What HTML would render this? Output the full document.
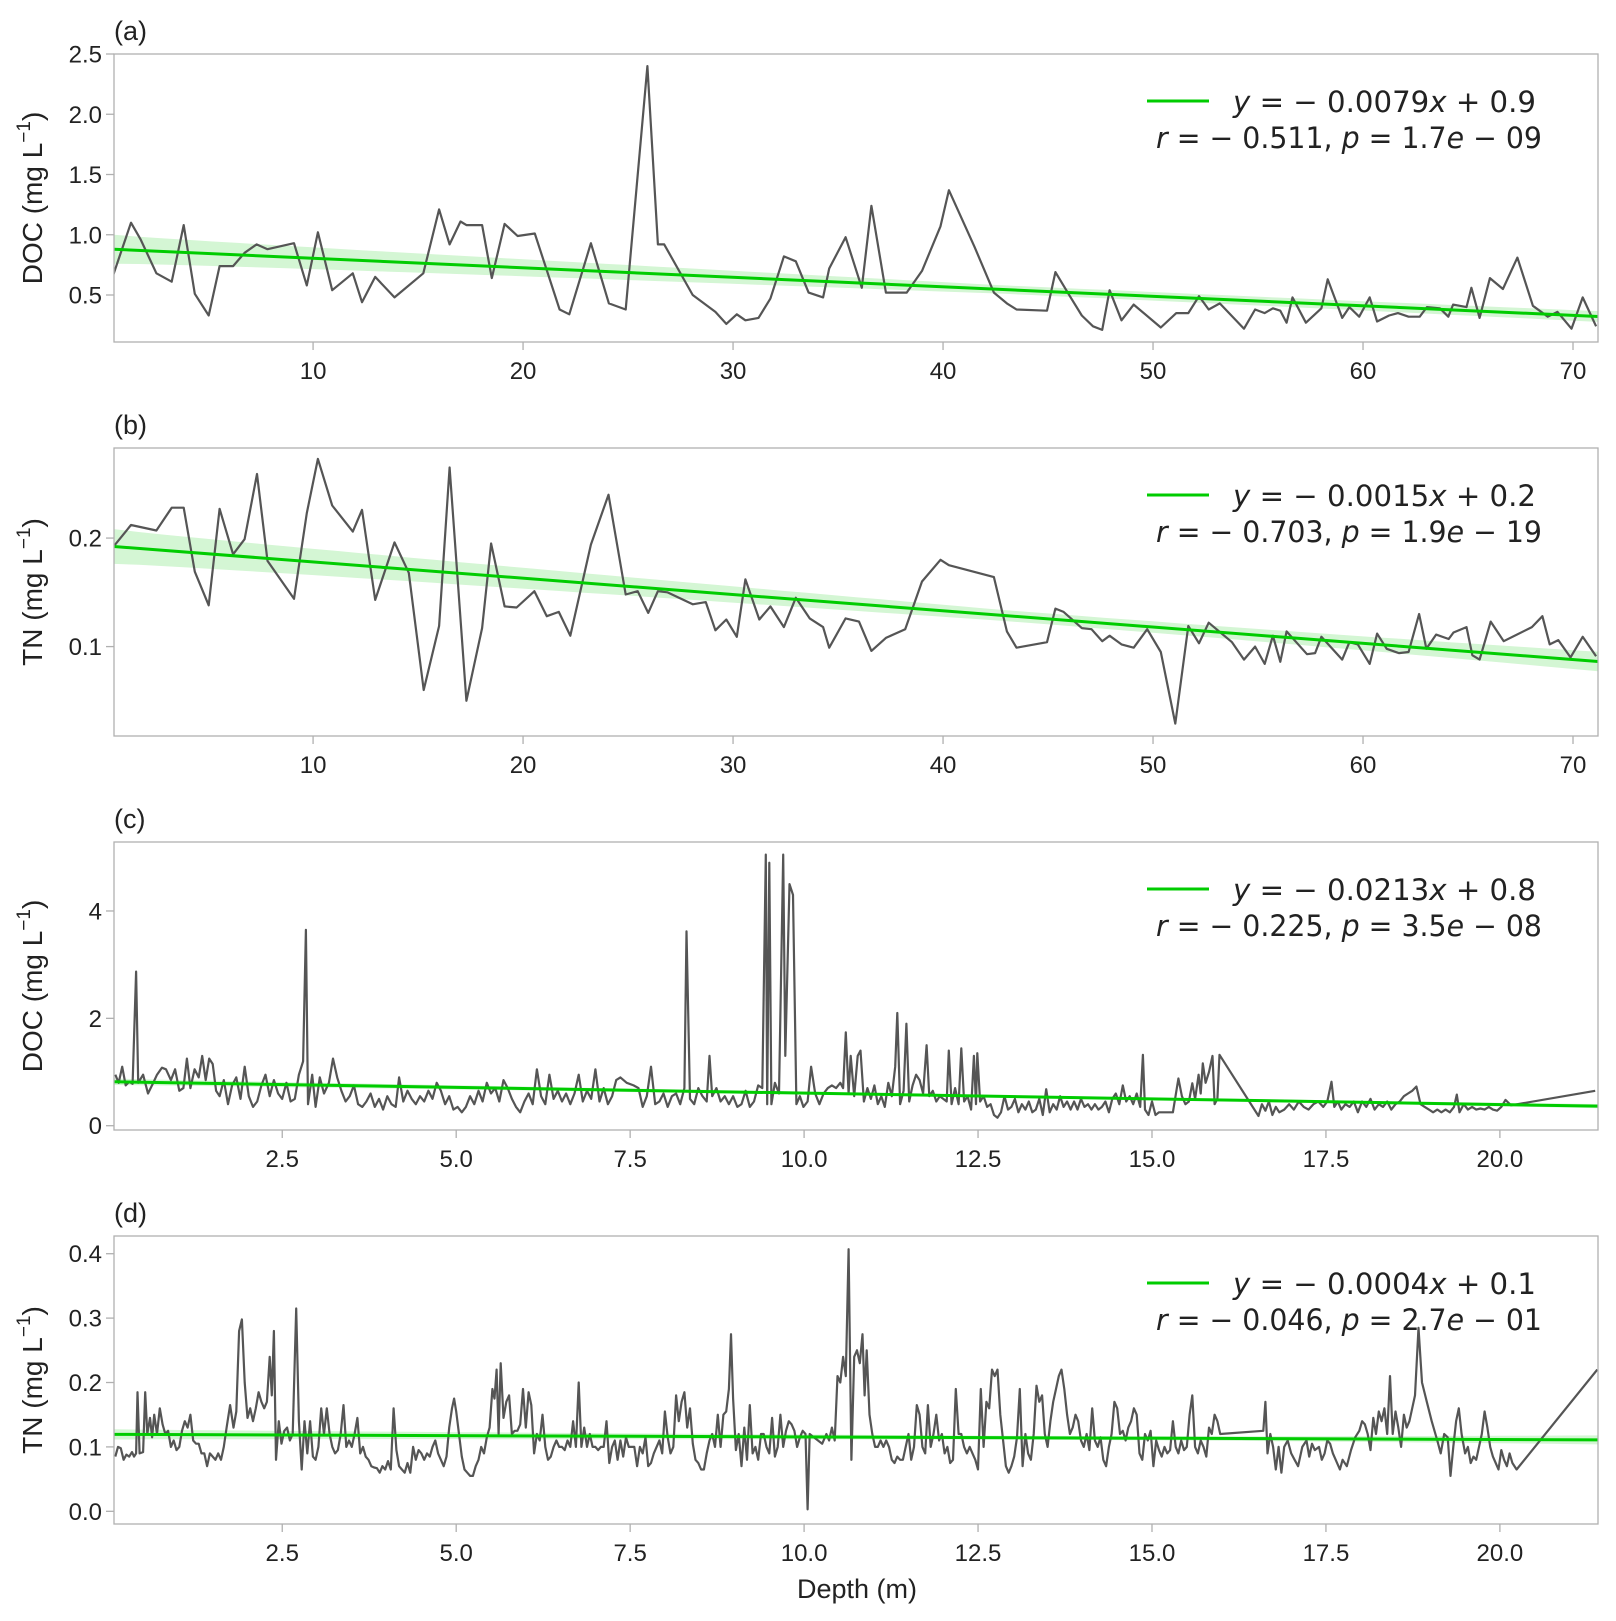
<!DOCTYPE html>
<html><head><meta charset="utf-8">
<style>
html,body{margin:0;padding:0;background:#fff;}
svg{display:block;}
text{font-family:"Liberation Sans",sans-serif;fill:#222;}
.math{font-family:"DejaVu Sans","Liberation Sans",sans-serif;}
</style></head>
<body>
<svg id="fig" width="1616" height="1621" viewBox="0 0 1616 1621" xmlns="http://www.w3.org/2000/svg"></svg>
<script>
// ---------- Panel (a) DOC, 0-71 m ----------
const aDepth=[0.49,1.33,1.79,2.54,3.27,3.84,4.37,5.03,5.55,6.19,6.74,7.31,7.83,9.09,9.70,10.23,10.91,11.89,12.33,12.96,13.88,15.25,16.0,16.5,17.02,17.30,18.05,18.51,19.12,19.74,20.56,21.74,22.2,23.23,24.09,24.89,25.92,26.42,26.72,28.08,29.16,29.68,30.18,30.59,31.21,31.78,32.42,32.99,33.6,34.29,34.58,35.36,36.13,36.59,37.28,38.27,39.0,39.88,40.28,41.5,42.42,43.04,43.5,44.95,45.35,46.04,46.61,47.14,47.58,47.93,48.5,49.08,50.37,51.11,51.68,52.19,52.65,53.18,54.33,54.86,55.32,55.71,56.06,56.36,56.64,57.28,58.02,58.32,59.01,59.35,59.82,60.32,60.67,61.24,61.66,62.17,62.7,63.04,63.66,64.06,64.29,64.93,65.16,65.55,66.04,66.66,67.35,68.09,68.8,69.26,69.93,70.46,71.1];
const aDOC=[0.67,1.10,0.96,0.68,0.61,1.08,0.51,0.33,0.74,0.74,0.85,0.92,0.88,0.93,0.58,1.02,0.54,0.68,0.44,0.65,0.48,0.68,1.21,0.92,1.11,1.08,1.08,0.64,1.09,0.99,1.01,0.38,0.34,0.93,0.43,0.38,2.40,0.92,0.92,0.50,0.36,0.26,0.34,0.29,0.31,0.47,0.82,0.78,0.52,0.48,0.72,0.98,0.56,1.24,0.52,0.52,0.70,1.07,1.37,0.90,0.52,0.43,0.38,0.37,0.69,0.49,0.33,0.24,0.21,0.54,0.29,0.42,0.23,0.35,0.35,0.49,0.38,0.43,0.22,0.38,0.35,0.39,0.37,0.27,0.48,0.27,0.39,0.63,0.31,0.40,0.32,0.48,0.28,0.33,0.35,0.32,0.32,0.40,0.39,0.32,0.42,0.40,0.56,0.31,0.64,0.55,0.81,0.41,0.32,0.36,0.22,0.48,0.24];
// ---------- Panel (b) TN, 0-71 m ----------
const bDepth=[0.49,1.33,2.54,3.27,3.84,4.37,5.03,5.55,6.19,6.74,7.33,7.83,9.09,9.7,10.23,10.91,11.89,12.33,12.96,13.88,14.56,15.27,16.0,16.5,17.3,18.05,18.48,19.12,19.69,20.54,21.13,21.7,22.25,23.23,24.07,24.89,25.46,25.96,26.42,26.87,28.08,28.7,29.16,29.68,30.18,30.59,31.25,31.78,32.42,32.99,33.65,34.29,34.58,35.36,36.0,36.59,37.28,38.2,39.0,39.88,40.28,42.42,43.04,43.5,44.95,45.35,45.74,46.61,47.07,47.58,47.93,48.5,49.08,49.72,50.37,51.06,51.68,52.19,52.65,53.76,54.33,54.86,55.32,55.71,56.06,56.36,57.33,57.72,58.02,59.01,59.35,59.75,60.32,60.67,61.13,61.71,62.17,62.67,63.02,63.48,64.08,64.31,64.93,65.21,65.55,66.08,66.7,68.04,68.54,68.89,69.3,69.88,70.46,71.1];
const bTN=[0.192,0.212,0.207,0.228,0.228,0.169,0.138,0.227,0.185,0.199,0.259,0.179,0.144,0.223,0.273,0.230,0.206,0.226,0.143,0.196,0.168,0.060,0.119,0.265,0.050,0.117,0.195,0.137,0.136,0.151,0.128,0.132,0.110,0.194,0.240,0.148,0.151,0.131,0.151,0.150,0.139,0.141,0.115,0.125,0.109,0.162,0.125,0.137,0.118,0.145,0.126,0.118,0.099,0.126,0.123,0.096,0.108,0.116,0.160,0.180,0.175,0.164,0.114,0.099,0.104,0.135,0.132,0.117,0.116,0.105,0.110,0.102,0.099,0.116,0.095,0.029,0.119,0.103,0.122,0.104,0.088,0.100,0.084,0.110,0.086,0.114,0.093,0.094,0.109,0.088,0.104,0.102,0.084,0.112,0.098,0.094,0.095,0.130,0.098,0.111,0.107,0.113,0.118,0.092,0.088,0.123,0.105,0.118,0.128,0.102,0.106,0.090,0.109,0.091];
// ---------- Panel (c) DOC, 0-21.4 m ----------
const cDepth=[0.10,0.15,0.20,0.25,0.30,0.35,0.40,0.43,0.50,0.57,0.64,0.70,0.77,0.83,0.90,0.96,1.02,1.08,1.13,1.18,1.24,1.30,1.35,1.40,1.45,1.50,1.55,1.60,1.66,1.72,1.78,1.84,1.90,1.96,2.02,2.08,2.14,2.20,2.26,2.32,2.38,2.44,2.50,2.56,2.62,2.68,2.74,2.80,2.84,2.87,2.93,2.98,3.04,3.10,3.17,3.23,3.29,3.35,3.41,3.47,3.53,3.59,3.65,3.71,3.77,3.83,3.89,3.95,4.01,4.07,4.13,4.18,4.24,4.30,4.36,4.42,4.48,4.54,4.60,4.66,4.72,4.78,4.84,4.90,4.96,5.02,5.08,5.14,5.20,5.26,5.32,5.38,5.44,5.50,5.56,5.62,5.68,5.74,5.80,5.86,5.92,5.98,6.04,6.10,6.16,6.22,6.28,6.34,6.40,6.46,6.52,6.58,6.64,6.70,6.76,6.82,6.88,6.94,7.00,7.06,7.12,7.18,7.24,7.30,7.36,7.45,7.55,7.62,7.68,7.74,7.80,7.86,7.92,7.98,8.04,8.10,8.16,8.22,8.28,8.31,8.36,8.42,8.48,8.54,8.60,8.64,8.68,8.74,8.80,8.86,8.92,8.98,9.04,9.10,9.16,9.22,9.28,9.34,9.40,9.45,9.47,9.50,9.53,9.58,9.64,9.70,9.73,9.79,9.84,9.89,9.94,9.99,10.05,10.10,10.16,10.22,10.28,10.34,10.40,10.46,10.52,10.56,10.60,10.64,10.67,10.72,10.77,10.81,10.86,10.91,10.96,11.01,11.06,11.11,11.16,11.21,11.26,11.31,11.34,11.38,11.43,11.47,11.51,11.56,11.61,11.66,11.71,11.76,11.80,11.85,11.90,11.95,12.00,12.05,12.08,12.12,12.17,12.22,12.26,12.30,12.35,12.40,12.44,12.47,12.49,12.53,12.58,12.63,12.68,12.73,12.78,12.83,12.88,12.93,12.98,13.03,13.08,13.13,13.18,13.23,13.28,13.33,13.38,13.43,13.48,13.53,13.58,13.63,13.68,13.73,13.78,13.83,13.88,13.93,13.98,14.03,14.08,14.13,14.18,14.23,14.28,14.33,14.38,14.43,14.48,14.53,14.58,14.63,14.68,14.73,14.78,14.83,14.87,14.90,14.95,15.00,15.05,15.10,15.20,15.30,15.38,15.43,15.48,15.53,15.58,15.62,15.67,15.70,15.73,15.77,15.82,15.87,15.90,15.94,15.97,16.53,16.58,16.63,16.68,16.73,16.78,16.83,16.90,16.97,17.04,17.11,17.18,17.25,17.32,17.39,17.46,17.52,17.58,17.62,17.67,17.72,17.78,17.84,17.90,17.96,18.02,18.08,18.14,18.20,18.26,18.32,18.38,18.44,18.50,18.56,18.62,18.68,18.74,18.80,18.86,18.92,18.98,19.04,19.10,19.16,19.22,19.28,19.34,19.38,19.42,19.48,19.54,19.60,19.66,19.72,19.78,19.84,19.90,19.96,20.02,20.08,20.16,21.37];
const cDOC=[0.95,0.80,1.10,0.75,0.82,0.78,2.87,0.80,0.95,0.60,0.78,0.95,1.08,1.05,0.85,1.05,0.65,0.70,1.25,0.70,1.05,0.90,1.30,0.85,1.25,1.15,0.65,0.55,0.85,0.40,0.75,0.90,0.50,1.10,0.55,0.35,0.45,0.75,0.95,0.55,0.85,0.60,0.50,0.80,0.45,0.50,0.95,1.20,3.65,0.40,0.95,0.35,0.90,0.60,0.80,1.25,0.90,0.65,0.45,0.55,0.75,0.40,0.35,0.45,0.60,0.35,0.50,0.30,0.55,0.40,0.35,0.90,0.45,0.65,0.50,0.40,0.55,0.45,0.65,0.50,0.80,0.65,0.40,0.55,0.30,0.35,0.25,0.35,0.55,0.40,0.65,0.45,0.80,0.60,0.70,0.45,0.85,0.70,0.50,0.35,0.25,0.45,0.60,0.40,1.05,0.55,0.40,0.95,0.50,0.65,0.45,0.60,0.40,0.60,0.95,0.45,0.65,0.50,1.05,0.45,0.70,0.40,0.55,0.85,0.90,0.80,0.75,0.70,0.35,0.55,1.10,0.40,0.45,0.60,0.35,0.55,0.60,0.40,0.70,3.62,0.50,0.40,0.70,0.55,0.45,1.30,0.55,0.70,0.45,0.55,0.40,0.55,0.35,0.40,0.65,0.35,0.45,0.75,0.70,5.05,0.40,4.90,0.40,0.80,0.60,5.05,1.30,4.50,4.30,0.40,0.55,0.35,0.45,1.10,0.60,0.40,0.60,0.70,0.75,0.70,0.80,0.70,1.74,0.60,1.30,0.55,1.30,1.40,0.45,0.70,0.50,0.75,0.40,0.55,0.35,0.80,0.55,1.10,2.10,0.40,0.65,1.90,0.45,0.75,0.95,0.85,0.60,1.50,0.55,0.65,0.45,0.55,0.50,0.45,1.40,0.40,0.70,0.40,1.44,0.45,0.55,0.30,1.30,0.40,1.35,0.45,0.55,0.35,0.40,0.20,0.15,0.25,0.55,0.30,0.35,0.50,0.25,0.40,0.30,0.45,0.25,0.30,0.50,0.20,0.68,0.25,0.40,0.30,0.55,0.35,0.45,0.30,0.45,0.30,0.50,0.35,0.40,0.30,0.40,0.30,0.35,0.45,0.25,0.50,0.60,0.40,0.75,0.45,0.55,0.40,0.60,0.35,1.32,0.30,0.20,0.45,0.20,0.25,0.25,0.25,0.88,0.55,0.40,0.45,0.79,0.50,0.95,0.60,1.16,0.80,1.00,1.30,0.40,0.50,1.32,0.18,0.40,0.28,0.45,0.20,0.35,0.25,0.30,0.40,0.30,0.45,0.35,0.30,0.40,0.45,0.35,0.45,0.82,0.35,0.45,0.30,0.40,0.35,0.45,0.25,0.45,0.35,0.50,0.30,0.40,0.35,0.45,0.30,0.40,0.45,0.55,0.60,0.65,0.73,0.40,0.35,0.30,0.25,0.30,0.25,0.30,0.25,0.35,0.58,0.25,0.40,0.30,0.35,0.30,0.32,0.30,0.35,0.30,0.28,0.35,0.48,0.38,0.65];
// ---------- Panel (d) TN, 0-21.4 m ----------
const dDepth=[0.10,0.14,0.18,0.22,0.26,0.30,0.34,0.37,0.40,0.42,0.45,0.50,0.53,0.56,0.60,0.63,0.66,0.70,0.74,0.78,0.82,0.86,0.90,0.94,0.98,1.02,1.06,1.10,1.14,1.18,1.22,1.26,1.30,1.34,1.38,1.42,1.46,1.50,1.54,1.58,1.62,1.66,1.70,1.75,1.80,1.84,1.88,1.92,1.96,2.00,2.04,2.08,2.12,2.16,2.20,2.24,2.28,2.32,2.35,2.38,2.41,2.45,2.49,2.53,2.57,2.61,2.65,2.70,2.74,2.78,2.82,2.86,2.90,2.94,2.98,3.02,3.06,3.10,3.14,3.18,3.22,3.26,3.30,3.34,3.38,3.42,3.46,3.50,3.54,3.58,3.62,3.66,3.70,3.74,3.78,3.82,3.86,3.90,3.94,3.98,4.02,4.06,4.10,4.14,4.18,4.22,4.26,4.30,4.34,4.38,4.42,4.46,4.50,4.54,4.58,4.62,4.66,4.70,4.74,4.78,4.82,4.86,4.90,4.94,4.97,5.00,5.04,5.08,5.12,5.16,5.20,5.24,5.28,5.32,5.36,5.40,5.44,5.48,5.52,5.55,5.58,5.61,5.64,5.68,5.72,5.76,5.80,5.84,5.88,5.92,5.96,6.00,6.04,6.08,6.12,6.16,6.20,6.24,6.28,6.32,6.36,6.40,6.44,6.48,6.52,6.56,6.60,6.64,6.68,6.72,6.76,6.80,6.84,6.88,6.92,6.96,7.00,7.04,7.08,7.12,7.16,7.20,7.24,7.28,7.32,7.36,7.40,7.44,7.48,7.52,7.56,7.60,7.64,7.68,7.72,7.76,7.80,7.84,7.88,7.92,7.96,8.00,8.04,8.08,8.12,8.16,8.20,8.24,8.28,8.32,8.36,8.40,8.44,8.48,8.52,8.56,8.60,8.64,8.68,8.72,8.76,8.80,8.84,8.88,8.92,8.95,8.98,9.02,9.06,9.10,9.14,9.18,9.22,9.26,9.30,9.34,9.38,9.42,9.46,9.50,9.54,9.58,9.62,9.66,9.70,9.74,9.78,9.82,9.86,9.90,9.94,9.98,10.02,10.05,10.08,10.14,10.20,10.26,10.32,10.36,10.40,10.44,10.48,10.52,10.56,10.60,10.64,10.68,10.72,10.76,10.80,10.84,10.87,10.90,10.94,10.98,11.02,11.06,11.10,11.14,11.18,11.22,11.26,11.30,11.34,11.38,11.42,11.46,11.50,11.54,11.58,11.62,11.66,11.70,11.74,11.78,11.82,11.86,11.90,11.94,11.98,12.02,12.06,12.10,12.14,12.18,12.22,12.26,12.30,12.34,12.38,12.42,12.46,12.50,12.54,12.58,12.62,12.66,12.70,12.74,12.78,12.82,12.86,12.90,12.94,12.98,13.02,13.06,13.10,13.14,13.18,13.22,13.26,13.30,13.34,13.38,13.42,13.46,13.50,13.54,13.58,13.62,13.66,13.70,13.74,13.78,13.82,13.86,13.90,13.94,13.98,14.02,14.06,14.10,14.14,14.18,14.22,14.26,14.30,14.34,14.38,14.42,14.46,14.50,14.54,14.58,14.62,14.66,14.70,14.74,14.78,14.82,14.86,14.90,14.94,14.98,15.02,15.06,15.10,15.14,15.18,15.22,15.26,15.30,15.34,15.38,15.42,15.46,15.50,15.54,15.58,15.62,15.66,15.70,15.74,15.78,15.82,15.86,15.90,15.94,15.98,16.60,16.63,16.66,16.70,16.74,16.78,16.82,16.86,16.90,16.95,17.00,17.05,17.10,17.16,17.22,17.26,17.30,17.34,17.40,17.44,17.48,17.52,17.56,17.60,17.64,17.70,17.74,17.80,17.86,17.92,17.98,18.02,18.06,18.10,18.14,18.18,18.22,18.26,18.30,18.34,18.38,18.42,18.46,18.50,18.54,18.58,18.62,18.66,18.70,18.74,18.78,18.83,18.88,18.95,19.02,19.10,19.15,19.20,19.25,19.29,19.33,19.37,19.41,19.45,19.50,19.54,19.58,19.62,19.66,19.70,19.74,19.78,19.82,19.86,19.90,19.94,19.98,20.02,20.06,20.10,20.14,20.18,20.24,21.40];
const dTN=[0.085,0.10,0.098,0.08,0.088,0.085,0.092,0.085,0.09,0.185,0.09,0.092,0.185,0.12,0.145,0.115,0.15,0.12,0.16,0.135,0.12,0.125,0.10,0.11,0.095,0.10,0.125,0.14,0.13,0.15,0.11,0.105,0.105,0.09,0.09,0.07,0.09,0.085,0.08,0.09,0.08,0.10,0.13,0.165,0.13,0.155,0.28,0.298,0.20,0.145,0.16,0.14,0.16,0.185,0.17,0.16,0.17,0.24,0.18,0.28,0.08,0.14,0.105,0.125,0.13,0.11,0.12,0.315,0.14,0.065,0.14,0.09,0.14,0.085,0.08,0.10,0.16,0.12,0.16,0.12,0.10,0.09,0.095,0.12,0.165,0.10,0.11,0.10,0.12,0.145,0.09,0.10,0.085,0.08,0.07,0.068,0.067,0.06,0.07,0.065,0.078,0.065,0.16,0.095,0.07,0.065,0.06,0.075,0.06,0.10,0.08,0.095,0.09,0.08,0.09,0.085,0.10,0.11,0.09,0.08,0.07,0.085,0.13,0.16,0.175,0.155,0.12,0.085,0.065,0.06,0.055,0.055,0.07,0.08,0.10,0.09,0.115,0.13,0.19,0.175,0.22,0.12,0.23,0.145,0.17,0.18,0.12,0.125,0.125,0.135,0.19,0.13,0.185,0.165,0.09,0.12,0.11,0.15,0.10,0.08,0.085,0.10,0.11,0.10,0.10,0.095,0.11,0.10,0.14,0.10,0.20,0.10,0.13,0.10,0.12,0.10,0.10,0.095,0.10,0.10,0.14,0.075,0.10,0.11,0.08,0.11,0.085,0.115,0.10,0.10,0.10,0.07,0.10,0.09,0.115,0.07,0.075,0.09,0.10,0.11,0.09,0.155,0.115,0.09,0.10,0.18,0.14,0.17,0.185,0.13,0.16,0.105,0.08,0.075,0.065,0.065,0.09,0.11,0.12,0.10,0.15,0.10,0.15,0.155,0.19,0.275,0.175,0.095,0.12,0.07,0.13,0.08,0.165,0.09,0.10,0.08,0.12,0.12,0.10,0.09,0.145,0.085,0.10,0.15,0.10,0.125,0.14,0.135,0.125,0.10,0.115,0.125,0.12,0.003,0.12,0.115,0.11,0.105,0.12,0.11,0.13,0.11,0.21,0.20,0.24,0.21,0.407,0.08,0.24,0.25,0.23,0.275,0.18,0.25,0.15,0.12,0.10,0.10,0.11,0.10,0.11,0.10,0.08,0.075,0.085,0.08,0.08,0.10,0.12,0.08,0.10,0.165,0.15,0.10,0.09,0.165,0.10,0.12,0.15,0.11,0.12,0.09,0.10,0.075,0.08,0.19,0.12,0.12,0.10,0.09,0.10,0.09,0.08,0.065,0.19,0.10,0.17,0.16,0.22,0.21,0.22,0.15,0.11,0.07,0.06,0.07,0.085,0.115,0.19,0.07,0.12,0.09,0.08,0.12,0.195,0.17,0.18,0.12,0.10,0.14,0.17,0.19,0.21,0.22,0.19,0.15,0.12,0.13,0.15,0.14,0.11,0.10,0.12,0.095,0.16,0.11,0.10,0.115,0.08,0.07,0.10,0.12,0.17,0.16,0.12,0.125,0.11,0.13,0.14,0.16,0.15,0.09,0.08,0.12,0.11,0.125,0.07,0.11,0.095,0.085,0.10,0.09,0.095,0.14,0.10,0.09,0.11,0.095,0.10,0.15,0.18,0.10,0.09,0.11,0.10,0.085,0.13,0.12,0.15,0.14,0.12,0.125,0.17,0.09,0.12,0.10,0.065,0.10,0.06,0.10,0.11,0.09,0.08,0.07,0.10,0.11,0.085,0.105,0.095,0.10,0.08,0.09,0.11,0.105,0.09,0.08,0.065,0.08,0.07,0.095,0.115,0.125,0.14,0.135,0.12,0.095,0.145,0.12,0.155,0.14,0.16,0.12,0.21,0.12,0.155,0.13,0.10,0.15,0.13,0.14,0.16,0.18,0.285,0.20,0.17,0.14,0.11,0.09,0.12,0.115,0.055,0.10,0.14,0.16,0.12,0.09,0.10,0.075,0.085,0.08,0.10,0.12,0.155,0.13,0.10,0.085,0.075,0.065,0.095,0.08,0.07,0.09,0.075,0.065,0.22];

// regression fits (slope, intercept) and confidence half-widths [at left edge, minimum, at right edge]
const fitSlope=[-0.0079,-0.0015,-0.0213,-0.0004];
const fitIntercept=[0.884,0.193,0.820,0.1195];
const bandHalf=[[0.12,0.035,0.045],[0.016,0.005,0.009],[0.06,0.02,0.04],[0.008,0.003,0.007]];
const eqSlopeText=["0.0079","0.0015","0.0213","0.0004"];
const eqInterceptText=["0.9","0.2","0.8","0.1"];
const eqR=["0.511","0.703","0.225","0.046"];
const eqP=["1.7","1.9","3.5","2.7"];
const eqPExp=["09","19","08","01"];
const aXTicks=[10,20,30,40,50,60,70];
const cXTicks=[2.5,5.0,7.5,10.0,12.5,15.0,17.5,20.0];
const aYTicks=[0.5,1.0,1.5,2.0,2.5];
const bYTicks=[0.1,0.2];
const cYTicks=[0,2,4];
const dYTicks=[0.0,0.1,0.2,0.3,0.4];

const NS="http://www.w3.org/2000/svg";
const svg=document.getElementById('fig');
function mk(tag,attrs,parent){const e=document.createElementNS(NS,tag);for(const k in attrs)e.setAttribute(k,attrs[k]);(parent||svg).appendChild(e);return e;}

const L=114,R=1598,H=288;
const panels=[
 {id:'a',top:54,x0:0.52,x1:71.19,y0:0.11,y1:2.5,xs:aDepth,ys:aDOC,xt:aXTicks,yt:aYTicks,xfmt:v=>String(v),yfmt:v=>v.toFixed(1),var:'DOC',lab:'(a)'},
 {id:'b',top:448,x0:0.52,x1:71.19,y0:0.0176,y1:0.283,xs:bDepth,ys:bTN,xt:aXTicks,yt:bYTicks,xfmt:v=>String(v),yfmt:v=>v.toFixed(1),var:'TN',lab:'(b)'},
 {id:'c',top:842,x0:0.082,x1:21.41,y0:-0.08,y1:5.285,xs:cDepth,ys:cDOC,xt:cXTicks,yt:cYTicks,xfmt:v=>v.toFixed(1),yfmt:v=>String(v),var:'DOC',lab:'(c)'},
 {id:'d',top:1236,x0:0.082,x1:21.41,y0:-0.0197,y1:0.4275,xs:dDepth,ys:dTN,xt:cXTicks,yt:dYTicks,xfmt:v=>v.toFixed(1),yfmt:v=>v.toFixed(1),var:'TN',lab:'(d)'}
];

panels.forEach((p,i)=>{
  const T=p.top,B=p.top+H;
  const sx=v=>L+(v-p.x0)/(p.x1-p.x0)*(R-L);
  const sy=v=>B-(v-p.y0)/(p.y1-p.y0)*H;
  const g=mk('g',{});
  
  
  const cp=mk('clipPath',{id:'clip'+p.id},g);
  mk('rect',{x:L,y:T,width:R-L,height:H},cp);
  const lab=mk('text',{x:114,y:T-14,'font-size':27},g);lab.textContent=p.lab;
  
  
  const yt=mk('text',{transform:`translate(42,${T+H/2}) rotate(-90)`,'text-anchor':'middle','font-size':28},g);
  
  
  yt.innerHTML=p.var+' (mg L<tspan dy="-12" font-size="19">−1</tspan><tspan dy="12">)</tspan>';
  const bh=bandHalf[i];
  const half=x=>{const t=(x-p.x0)/(p.x1-p.x0);return t<0.6?bh[0]+(bh[1]-bh[0])*Math.pow(t/0.6,0.7):bh[1]+(bh[2]-bh[1])*Math.pow((t-0.6)/0.4,2);};
  let up=[],dn=[];
  for(let k=0;k<=60;k++){const x=p.x0+(p.x1-p.x0)*k/60;const y=fitSlope[i]*x+fitIntercept[i];up.push(sx(x).toFixed(1)+','+sy(y+half(x)).toFixed(1));dn.unshift(sx(x).toFixed(1)+','+sy(y-half(x)).toFixed(1));}
  const band=mk('polygon',{points:up.concat(dn).join(' '),fill:'#d4f6d4','clip-path':`url(#clip${p.id})`},g);
  
  
  const pts=p.xs.map((x,k)=>sx(x).toFixed(1)+','+sy(p.ys[k]).toFixed(1)).join(' ');
  const dl=mk('polyline',{points:pts,fill:'none',stroke:'#555','stroke-width':2.2,'stroke-linejoin':'round','clip-path':`url(#clip${p.id})`},g);
  
  
  const rl=mk('line',{x1:sx(p.x0),y1:sy(fitSlope[i]*p.x0+fitIntercept[i]),x2:sx(p.x1),y2:sy(fitSlope[i]*p.x1+fitIntercept[i]),stroke:'#00cc00','stroke-width':3},g);
  
  
  const fr=mk('rect',{x:L,y:T,width:R-L,height:H,fill:'none',stroke:'#b0b0b0','stroke-width':1.3},g);
  
  
  p.xt.forEach(v=>{
    const x=sx(v);
    mk('line',{x1:x,y1:B,x2:x,y2:B+8,stroke:'#b0b0b0','stroke-width':1.3},g);
    const t=mk('text',{x:x,y:B+37,'text-anchor':'middle','font-size':24},g);t.textContent=p.xfmt(v);
    
    
  });
  p.yt.forEach(v=>{
    const y=sy(v);
    mk('line',{x1:L-8,y1:y,x2:L,y2:y,stroke:'#b0b0b0','stroke-width':1.3},g);
    const t=mk('text',{x:L-12,y:y+8.5,'text-anchor':'end','font-size':24},g);t.textContent=p.yfmt(v);
    
    
  });
  const lg=mk('g',{},g);
  
  
  mk('line',{x1:1147,y1:T+47,x2:1209,y2:T+47,stroke:'#00cc00','stroke-width':3},lg);
  const t1=mk('text',{x:1233,y:T+58,'font-size':29,class:'math',textLength:303,lengthAdjust:'spacingAndGlyphs'},lg);
  t1.innerHTML='<tspan font-style="italic">y</tspan> = − '+eqSlopeText[i]+'<tspan font-style="italic">x</tspan> + '+eqInterceptText[i];
  const t2=mk('text',{x:1156,y:T+94,'font-size':29,class:'math',textLength:386,lengthAdjust:'spacingAndGlyphs'},lg);
  t2.innerHTML='<tspan font-style="italic">r</tspan> = − '+eqR[i]+', <tspan font-style="italic">p</tspan> = '+eqP[i]+'<tspan font-style="italic">e</tspan> − '+eqPExp[i];
});
const xt=mk('text',{x:857,y:1598,'text-anchor':'middle','font-size':27});
xt.textContent='Depth (m)';


</script>
</body></html>
